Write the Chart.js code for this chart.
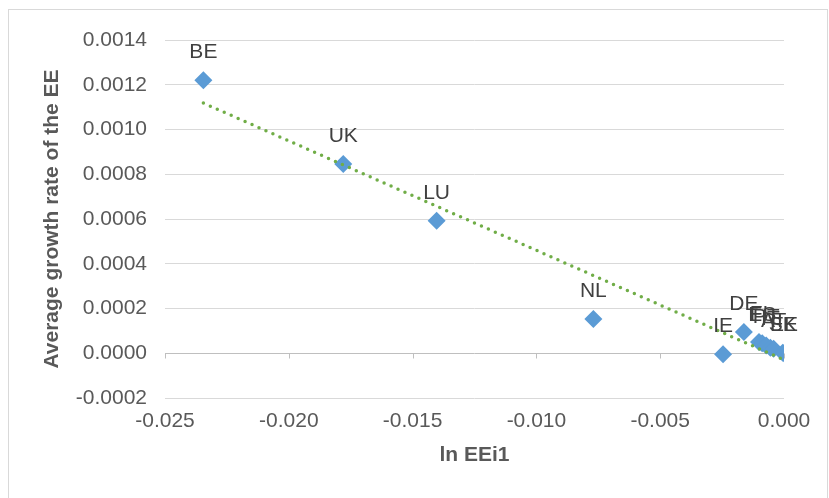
<!DOCTYPE html>
<html>
<head>
<meta charset="utf-8">
<script src="https://cdn.jsdelivr.net/npm/chart.js@4.4.1/dist/chart.umd.min.js"></script>
<style>
  html, body { margin: 0; padding: 0; background: #fff; }
  #wrap { width: 829px; height: 498px; position: relative; }
</style>
</head>
<body>
<div id="wrap"><canvas id="scatterChart" width="829" height="498"></canvas></div>
<script>
// ==========================================
// DATA
// ==========================================
const countries = ['BE', 'UK', 'LU', 'NL', 'IE', 'DE', 'FI', 'ES', 'PT', 'IT', 'AT', 'SK', 'EE'];
const lnEEi1 = [-0.02345, -0.0178, -0.01403, -0.0077, -0.00246, -0.00162, -0.00101, -0.00088, -0.00072, -0.00055, -0.00042, -0.00005, 0.0];
const growthEE = [0.00122, 0.000846, 0.000592, 0.000153, -0.000004, 0.000095, 0.00005, 0.000045, 0.000035, 0.000025, 0.00002, 0.000002, 0.0];

const xTickValues = [-0.025, -0.020, -0.015, -0.010, -0.005, 0.000];
const yTickValues = [-0.0002, 0.0000, 0.0002, 0.0004, 0.0006, 0.0008, 0.0010, 0.0012, 0.0014];

const FONT = '"Liberation Sans", Arial, sans-serif';
const FONT_SIZE = 21;

// linear trendline (least squares, like Excel's)
function linearFit(xs, ys) {
    const n = xs.length;
    const mx = xs.reduce((a, b) => a + b, 0) / n;
    const my = ys.reduce((a, b) => a + b, 0) / n;
    let sxy = 0, sxx = 0;
    for (let i = 0; i < n; i++) {
        sxy += (xs[i] - mx) * (ys[i] - my);
        sxx += (xs[i] - mx) * (xs[i] - mx);
    }
    const slope = sxy / sxx;
    return { slope: slope, intercept: my - slope * mx };
}
const fit = linearFit(lnEEi1, growthEE);
const xMin = Math.min(...lnEEi1), xMax = Math.max(...lnEEi1);
const trendPoints = [xMin, xMax].map(x => ({ x: x, y: fit.intercept + fit.slope * x }));

const points = lnEEi1.map((x, i) => ({ x: x, y: growthEE[i] }));

// ==========================================
// PLUGINS
// ==========================================
const frameAndLabels = {
    id: 'frameAndLabels',
    beforeDraw(chart) {
        const ctx = chart.ctx;
        ctx.save();
        ctx.strokeStyle = '#d9d9d9';
        ctx.lineWidth = 1;
        ctx.strokeRect(8.5, 9.5, 819, 500);
        ctx.restore();
    },
    afterDatasetsDraw(chart) {
        const ctx = chart.ctx;
        const meta = chart.getDatasetMeta(1);
        ctx.save();
        ctx.font = FONT_SIZE + 'px ' + FONT;
        ctx.fillStyle = '#404040';
        ctx.textAlign = 'center';
        ctx.textBaseline = 'middle';
        meta.data.forEach((pt, i) => {
            ctx.fillText(countries[i], pt.x, pt.y - 28);
        });
        // small tick marks under the zero line, at the x ticks
        const xs = chart.scales.x, ys = chart.scales.y;
        const y0 = Math.round(ys.getPixelForValue(0)) + 0.5;
        ctx.strokeStyle = '#bfbfbf';
        ctx.lineWidth = 1;
        xTickValues.forEach(v => {
            const px = Math.round(xs.getPixelForValue(v)) + 0.5;
            ctx.beginPath();
            ctx.moveTo(px, y0);
            ctx.lineTo(px, y0 + 5);
            ctx.stroke();
        });
        ctx.restore();
    }
};

// ==========================================
// CHART
// ==========================================
const ctx = document.getElementById('scatterChart').getContext('2d');
const scatterChartInstance = new Chart(ctx, {
    type: 'scatter',
    data: {
        datasets: [
            {
                type: 'line',
                label: 'Linear trend',
                data: trendPoints,
                borderColor: '#70AD47',
                borderWidth: 3.5,
                borderDash: [0, 7.6],
                borderCapStyle: 'round',
                pointRadius: 0,
                fill: false,
                order: 0
            },
            {
                label: 'Average growth rate of the EE',
                data: points,
                pointStyle: 'rectRot',
                pointRadius: 9,
                pointHoverRadius: 9,
                backgroundColor: '#5B9BD5',
                borderColor: '#5B9BD5',
                borderWidth: 0,
                order: 1
            }
        ]
    },
    options: {
        responsive: false,
        animation: false,
        layout: { padding: { top: 40, right: 45, left: 0, bottom: 0 } },
        plugins: {
            legend: { display: false },
            tooltip: { enabled: false }
        },
        scales: {
            x: {
                type: 'linear',
                min: -0.025,
                max: 0,
                afterFit: s => { s.height = 100; },
                afterBuildTicks: s => { s.ticks = xTickValues.map(v => ({ value: v })); },
                grid: { display: false, drawTicks: false },
                border: { display: false },
                ticks: {
                    padding: 11,
                    color: '#595959',
                    font: { family: FONT, size: FONT_SIZE },
                    callback: v => v.toFixed(3)
                },
                title: {
                    display: true,
                    text: 'ln EEi1',
                    color: '#595959',
                    font: { family: FONT, size: FONT_SIZE, weight: 'bold' },
                    padding: { top: 0, bottom: 30 }
                }
            },
            y: {
                type: 'linear',
                min: -0.0002,
                max: 0.0014,
                afterFit: s => { s.width = 165; },
                afterBuildTicks: s => { s.ticks = yTickValues.map(v => ({ value: v })); },
                grid: {
                    drawTicks: false,
                    color: c => (c.tick && Math.abs(c.tick.value) < 1e-12) ? '#bfbfbf' : '#d9d9d9',
                    lineWidth: 1
                },
                border: { display: false },
                ticks: {
                    padding: 18,
                    color: '#595959',
                    font: { family: FONT, size: FONT_SIZE },
                    callback: v => v.toFixed(4)
                },
                title: {
                    display: true,
                    text: 'Average growth rate of the EE',
                    color: '#595959',
                    font: { family: FONT, size: FONT_SIZE, weight: 'bold' },
                    padding: { top: 40, bottom: 0 }
                }
            }
        }
    },
    plugins: [frameAndLabels]
});
</script>
</body>
</html>
